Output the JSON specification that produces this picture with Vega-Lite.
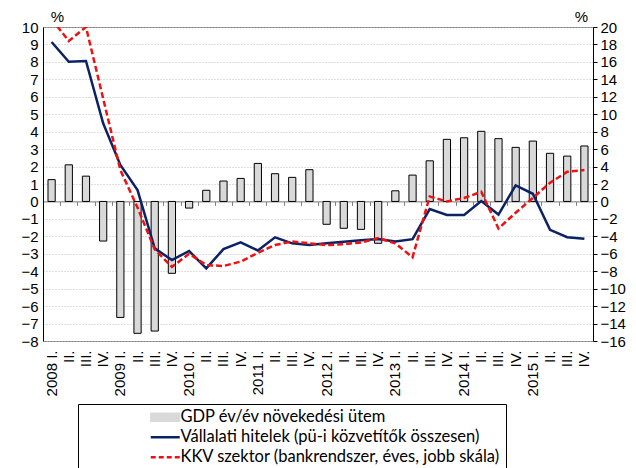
{
  "$schema": "https://vega.github.io/schema/vega-lite/v6.json",
  "width": 550,
  "height": 314,
  "autosize": {"type": "none"},
  "padding": {"left": 43, "top": 27, "right": 43, "bottom": 127},
  "background": "white",
  "config": {
    "view": {"stroke": "#7f7f7f", "strokeWidth": 1},
    "font": "Liberation Sans",
    "axis": {"labelFont": "Liberation Sans", "labelFontSize": 15, "labelColor": "black", "domainColor": "black", "tickColor": "black", "titleFont": "Liberation Sans", "titleFontSize": 15, "titleFontWeight": "normal", "titleColor": "black"},
    "legend": {"labelFont": "Lato", "labelFontSize": 16.5, "labelColor": "black", "strokeColor": "black", "fillColor": "white", "labelLimit": 600}
  },
  "data": {"values": [
    {"t": "2008 I.", "gdp": 1.25, "vh": 9.14, "kkv": 20.9},
    {"t": "2008 II.", "gdp": 2.1, "vh": 8.01, "kkv": 18.4},
    {"t": "2008 III.", "gdp": 1.45, "vh": 8.05, "kkv": 20.0},
    {"t": "2008 IV.", "gdp": -2.27, "vh": 4.48, "kkv": 11.8},
    {"t": "2009 I.", "gdp": -6.65, "vh": 2.09, "kkv": 3.6},
    {"t": "2009 II.", "gdp": -7.56, "vh": 0.65, "kkv": -0.7},
    {"t": "2009 III.", "gdp": -7.43, "vh": -2.69, "kkv": -5.5},
    {"t": "2009 IV.", "gdp": -4.12, "vh": -3.36, "kkv": -7.5},
    {"t": "2010 I.", "gdp": -0.38, "vh": -2.84, "kkv": -6.0},
    {"t": "2010 II.", "gdp": 0.64, "vh": -3.84, "kkv": -7.3},
    {"t": "2010 III.", "gdp": 1.17, "vh": -2.73, "kkv": -7.4},
    {"t": "2010 IV.", "gdp": 1.32, "vh": -2.35, "kkv": -6.9},
    {"t": "2011 I.", "gdp": 2.18, "vh": -2.81, "kkv": -5.9},
    {"t": "2011 II.", "gdp": 1.59, "vh": -2.06, "kkv": -5.0},
    {"t": "2011 III.", "gdp": 1.38, "vh": -2.4, "kkv": -4.6},
    {"t": "2011 IV.", "gdp": 1.82, "vh": -2.5, "kkv": -4.8},
    {"t": "2012 I.", "gdp": -1.31, "vh": -2.39, "kkv": -5.0},
    {"t": "2012 II.", "gdp": -1.54, "vh": -2.31, "kkv": -4.9},
    {"t": "2012 III.", "gdp": -1.6, "vh": -2.23, "kkv": -4.7},
    {"t": "2012 IV.", "gdp": -2.4, "vh": -2.15, "kkv": -4.2},
    {"t": "2013 I.", "gdp": 0.61, "vh": -2.29, "kkv": -4.8},
    {"t": "2013 II.", "gdp": 1.51, "vh": -2.16, "kkv": -6.4},
    {"t": "2013 III.", "gdp": 2.33, "vh": -0.44, "kkv": 0.57},
    {"t": "2013 IV.", "gdp": 3.56, "vh": -0.78, "kkv": 0.0},
    {"t": "2014 I.", "gdp": 3.65, "vh": -0.78, "kkv": 0.4},
    {"t": "2014 II.", "gdp": 4.02, "vh": 0.02, "kkv": 1.1},
    {"t": "2014 III.", "gdp": 3.6, "vh": -0.75, "kkv": -3.1},
    {"t": "2014 IV.", "gdp": 3.1, "vh": 0.92, "kkv": -1.3},
    {"t": "2015 I.", "gdp": 3.46, "vh": 0.44, "kkv": 0.4},
    {"t": "2015 II.", "gdp": 2.76, "vh": -1.63, "kkv": 2.14},
    {"t": "2015 III.", "gdp": 2.6, "vh": -2.05, "kkv": 3.4},
    {"t": "2015 IV.", "gdp": 3.18, "vh": -2.14, "kkv": 3.6}
  ]},
  "layer": [
    {
      "mark": {"type": "bar", "stroke": "black", "strokeWidth": 1, "width": {"band": 0.42}, "opacity": 1},
      "encoding": {
        "x": {"field": "t", "type": "nominal", "sort": null, "scale": {"paddingInner": 0, "paddingOuter": 0},
              "axis": {"orient": "bottom", "offset": -139.6, "labels": false, "title": null, "domainColor": "#808080", "ticks": true, "tickBand": "extent", "tickSize": 4, "tickColor": "#808080"}},
        "y": {"field": "gdp", "type": "quantitative", "scale": {"domain": [-8, 10], "nice": false, "zero": false},
              "axis": {"values": [-8, -7, -6, -5, -4, -3, -2, -1, 0, 1, 2, 3, 4, 5, 6, 7, 8, 9, 10], "grid": true, "gridDash": [1, 2], "gridColor": "#bfbfbf", "title": "%", "titleAngle": 0, "titleX": 14, "titleY": -6, "titleAlign": "center", "titleBaseline": "alphabetic", "ticks": false, "labelPadding": 5}},
        "color": {"datum": "GDP év/év növekedési ütem", "type": "nominal",
                  "scale": {"domain": ["GDP év/év növekedési ütem", "Vállalati hitelek (pü-i közvetítők összesen)", "KKV szektor (bankrendszer, éves, jobb skála)"], "range": ["#d9d9d9", "#0b2265", "#ee1111"]},
                  "legend": {"orient": "none", "legendX": 35, "legendY": 377, "title": null, "padding": 5, "rowPadding": 3, "symbolSize": 400, "symbolOffset": 74, "labelOffset": 7, "symbolStrokeColor": "black", "symbolStrokeWidth": 1.3,
                             "labelExpr": "datum.label + '\u00a0\u00a0\u00a0\u00a0\u00a0\u00a0\u00a0\u00a0\u00a0\u00a0\u00a0\u00a0\u00a0\u00a0\u00a0\u00a0\u00a0\u00a0\u00a0\u00a0\u00a0\u00a0'",
                             "encode": {"symbols": {"update": {
                               "shape": {"signal": "datum.index == 0 ? 'M-1.45,-0.4H1.45V0.4H-1.45Z' : 'M-1.45,0H1.45'"},
                               "fill": {"signal": "datum.index == 0 ? '#d9d9d9' : 'transparent'"},
                               "stroke": {"signal": "datum.index == 0 ? '#000000' : (datum.index == 1 ? '#0b2265' : '#ee1111')"},
                               "strokeWidth": {"signal": "datum.index == 0 ? 1.3 : 2.5"},
                               "strokeDash": {"signal": "datum.index == 2 ? [5, 3] : null"},
                               "strokeOpacity": {"value": 1},
                               "fillOpacity": {"value": 1},
                               "opacity": {"value": 1}
                             }}}}}
      }
    },
    {
      "mark": {"type": "line", "strokeWidth": 2.5},
      "encoding": {
        "x": {"field": "t", "type": "nominal", "sort": null,
              "axis": {"orient": "bottom", "title": null, "labelAngle": -90, "domain": false, "ticks": false, "labelPadding": 9, "grid": false,
                       "labelExpr": "slice(datum.value, 5) == 'I.' ? datum.value : slice(datum.value, 5)"}},
        "y": {"field": "vh", "type": "quantitative", "scale": {"domain": [-8, 10], "nice": false, "zero": false}, "axis": null},
        "color": {"datum": "Vállalati hitelek (pü-i közvetítők összesen)", "type": "nominal",
                  "legend": {"orient": "none", "legendX": 35, "legendY": 377, "title": null, "padding": 5, "rowPadding": 3, "symbolSize": 400, "symbolOffset": 74, "labelOffset": 7, "symbolStrokeColor": "black", "symbolStrokeWidth": 1.3,
                             "labelExpr": "datum.label + '\u00a0\u00a0\u00a0\u00a0\u00a0\u00a0\u00a0\u00a0\u00a0\u00a0\u00a0\u00a0\u00a0\u00a0\u00a0\u00a0\u00a0\u00a0\u00a0\u00a0\u00a0\u00a0'",
                             "encode": {"symbols": {"update": {
                               "shape": {"signal": "datum.index == 0 ? 'M-1.45,-0.4H1.45V0.4H-1.45Z' : 'M-1.45,0H1.45'"},
                               "fill": {"signal": "datum.index == 0 ? '#d9d9d9' : 'transparent'"},
                               "stroke": {"signal": "datum.index == 0 ? '#000000' : (datum.index == 1 ? '#0b2265' : '#ee1111')"},
                               "strokeWidth": {"signal": "datum.index == 0 ? 1.3 : 2.5"},
                               "strokeDash": {"signal": "datum.index == 2 ? [5, 3] : null"},
                               "strokeOpacity": {"value": 1},
                               "fillOpacity": {"value": 1},
                               "opacity": {"value": 1}
                             }}}}}
      }
    },
    {
      "mark": {"type": "line", "strokeWidth": 2.5, "strokeDash": [6, 3], "clip": true},
      "encoding": {
        "x": {"field": "t", "type": "nominal", "sort": null, "axis": null},
        "y": {"field": "kkv", "type": "quantitative", "scale": {"domain": [-16, 20], "nice": false, "zero": false},
              "axis": {"orient": "right", "values": [-16, -14, -12, -10, -8, -6, -4, -2, 0, 2, 4, 6, 8, 10, 12, 14, 16, 18, 20], "grid": false, "ticks": true, "tickSize": 4, "labelPadding": 3, "title": "%", "titleAngle": 0, "titleX": -12, "titleY": -6, "titleAlign": "center", "titleBaseline": "alphabetic"}},
        "color": {"datum": "KKV szektor (bankrendszer, éves, jobb skála)", "type": "nominal",
                  "legend": {"orient": "none", "legendX": 35, "legendY": 377, "title": null, "padding": 5, "rowPadding": 3, "symbolSize": 400, "symbolOffset": 74, "labelOffset": 7, "symbolStrokeColor": "black", "symbolStrokeWidth": 1.3,
                             "labelExpr": "datum.label + '\u00a0\u00a0\u00a0\u00a0\u00a0\u00a0\u00a0\u00a0\u00a0\u00a0\u00a0\u00a0\u00a0\u00a0\u00a0\u00a0\u00a0\u00a0\u00a0\u00a0\u00a0\u00a0'",
                             "encode": {"symbols": {"update": {
                               "shape": {"signal": "datum.index == 0 ? 'M-1.45,-0.4H1.45V0.4H-1.45Z' : 'M-1.45,0H1.45'"},
                               "fill": {"signal": "datum.index == 0 ? '#d9d9d9' : 'transparent'"},
                               "stroke": {"signal": "datum.index == 0 ? '#000000' : (datum.index == 1 ? '#0b2265' : '#ee1111')"},
                               "strokeWidth": {"signal": "datum.index == 0 ? 1.3 : 2.5"},
                               "strokeDash": {"signal": "datum.index == 2 ? [5, 3] : null"},
                               "strokeOpacity": {"value": 1},
                               "fillOpacity": {"value": 1},
                               "opacity": {"value": 1}
                             }}}}}
      }
    }
  ],
  "resolve": {"scale": {"y": "independent"}, "axis": {"x": "independent"}}
}
